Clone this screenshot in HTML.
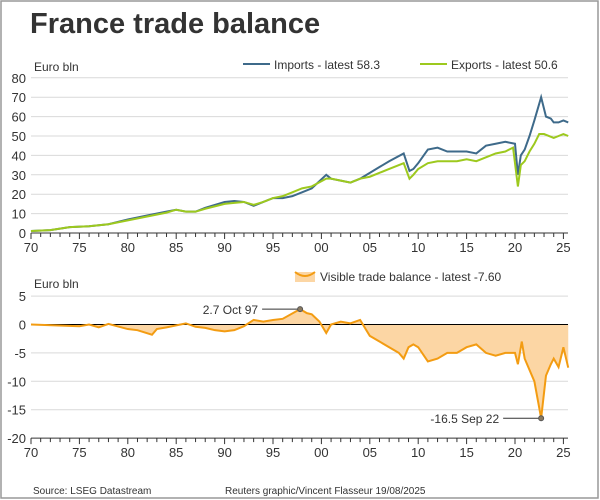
<!DOCTYPE html>
<html><head><meta charset="utf-8"><style>
body{margin:0;background:#fff;font-family:"Liberation Sans",sans-serif}
#wrap{position:relative;width:600px;height:500px;overflow:hidden}
</style></head><body>
<div id="wrap">
<svg id="svg" width="600" height="500" xmlns="http://www.w3.org/2000/svg" font-family="Liberation Sans, sans-serif">
<rect x="1" y="1" width="597" height="497" fill="#fff" stroke="#999" stroke-width="1.5"/>
<text x="30" y="33" font-size="29" font-weight="bold" fill="#333">France trade balance</text>
<text x="34" y="71" font-size="12" fill="#333">Euro bln</text>
<text x="34" y="288" font-size="12" fill="#333">Euro bln</text>
<g><line x1="243" y1="64" x2="270" y2="64" stroke="#3e6a8a" stroke-width="2"/><text x="274" y="69" font-size="12" fill="#333">Imports - latest 58.3</text></g>
<g><line x1="420" y1="64" x2="447" y2="64" stroke="#9dc91e" stroke-width="2"/><text x="451" y="69" font-size="12" fill="#333">Exports - latest 50.6</text></g>
<g><path d="M295 272 L315 272 L315 282 L295 282Z" fill="#fcd6a4"/><path d="M295 272 Q305 280 315 272" stroke="#f39c12" stroke-width="2" fill="none"/><text x="320" y="281" font-size="12" fill="#333">Visible trade balance - latest -7.60</text></g>
<text x="33" y="494" font-size="10" fill="#333">Source: LSEG Datastream</text>
<text x="225" y="494" font-size="10" fill="#333">Reuters graphic/Vincent Flasseur 19/08/2025</text>
<g id="g"></g>
</svg></div>
<script>
const impYears=[1970,1972,1974,1976,1978,1980,1982,1984,1985,1986,1987,1988,1990,1991,1992,1993,1994,1995,1996,1997,1998,1999,2000.5,2001,2002,2003,2004,2005,2006,2007,2008.5,2009.1,2009.5,2010,2011,2012,2013,2014,2015,2016,2017,2018,2019,2020,2020.3,2020.6,2021,2021.5,2022,2022.7,2023.2,2023.7,2024,2024.5,2025,2025.5];
const impVals=[1,1.5,3,3.5,4.5,7,9,11,12,11,11,13,16,16.5,16,14,16,18,18,19,21,23,30,28,27,26,28,31,34,37,41,32,33,36,43,44,42,42,42,41,45,46,47,46,30,40,43,50,58,70,60,59,57,57,58,57];
const expYears=[1970,1972,1974,1976,1978,1980,1982,1984,1985,1986,1987,1988,1990,1991,1992,1993,1994,1995,1996,1997,1998,1999,2000.5,2001,2002,2003,2004,2005,2006,2007,2008.5,2009.1,2009.5,2010,2011,2012,2013,2014,2015,2016,2017,2018,2019,2019.8,2020.3,2020.6,2021,2021.5,2022,2022.5,2023,2024,2024.5,2025,2025.5];
const expVals=[1,1.5,3,3.5,4.5,6.5,8.5,10.5,12,11,11,12.5,15,15.5,16,14.5,16,18,19,21,23,24,28,28,27,26,28,29,31,33,36,28,30,33,36,37,37,37,38,37,39,41,42,44,24,35,37,42,46,51,51,49,50,51,50];
const balYears=[1970,1975,1976,1977,1978,1980,1981,1982.5,1983,1984,1986,1987,1988,1989,1990,1991,1992,1993,1994,1995,1996,1997.8,1998.5,1999,1999.8,2000.5,2001,2002,2003,2004,2005,2006,2007,2008,2008.5,2009,2009.5,2010,2011,2012,2013,2014,2015,2016,2017,2018,2019,2020,2020.3,2020.7,2021,2022,2022.7,2023.2,2023.7,2024,2024.5,2025,2025.5];
const balVals=[0,-0.3,0,-0.5,0.1,-0.8,-1,-1.8,-0.8,-0.5,0.2,-0.4,-0.6,-1,-1.2,-1,-0.3,0.8,0.5,0.8,1,2.7,2,1.8,0.5,-1.5,0,0.5,0.2,0.8,-2,-3,-4,-5,-6,-4,-3.5,-4,-6.5,-6,-5,-5,-4,-3.5,-5,-5.5,-5,-5,-7,-3,-6,-10,-16.5,-9,-7,-6,-7.5,-4,-7.6];
const topTicks=[0,10,20,30,40,50,60,70,80];
const botTicks=[5,0,-5,-10,-15,-20];
const yearLabels=["70","75","80","85","90","95","00","05","10","15","20","25"];

const NS="http://www.w3.org/2000/svg",g=document.getElementById('g');
const X0=31,XR=568;
const x=t=>X0+(t-1970)*9.68;
const yT=v=>233-v*1.94;
const yB=v=>324.5-v*5.68;
function el(tag,a,parent){const e=document.createElementNS(NS,tag);for(const k in a)e.setAttribute(k,a[k]);(parent||g).appendChild(e);return e;}
topTicks.forEach(v=>{
 if(v>0){const l=el('line',{x1:X0,x2:XR,y1:yT(v),y2:yT(v),stroke:'#d9d9d9'});
 
 }
 const t=el('text',{x:26,y:yT(v)+5,'font-size':13,'text-anchor':'end',fill:'#333'});t.textContent=v;
 
 
});
botTicks.forEach(v=>{
 if(v!==-20&&v!==0){const l=el('line',{x1:X0,x2:XR,y1:yB(v),y2:yB(v),stroke:'#d9d9d9'});
 
 }
 const t=el('text',{x:26,y:yB(v)+5,'font-size':13,'text-anchor':'end',fill:'#333'});t.textContent=v;
 
 
});
[[yT(0),'top'],[yB(-20),'bottom']].forEach(([ay,nm])=>{
 const a=el('line',{x1:X0,x2:XR,y1:ay,y2:ay,stroke:'#333'});
 
 
 for(let yr=1970;yr<=2025;yr++){el('line',{x1:x(yr),x2:x(yr),y1:ay,y2:ay+(yr%5===0?6:4),stroke:'#333'});}
 yearLabels.forEach((s,i)=>{const t=el('text',{x:x(1970+i*5),y:ay+19,'font-size':13,'text-anchor':'middle',fill:'#333'});t.textContent=s;
 
 });
});
let pts=balYears.map((t,i)=>x(t)+','+yB(balVals[i]));
const area=el('path',{d:'M'+x(balYears[0])+','+yB(0)+' L'+pts.join(' L')+' L'+x(balYears[balYears.length-1])+','+yB(0)+'Z',fill:'#fcd6a4'});


const zl=el('line',{x1:X0,x2:XR,y1:yB(0),y2:yB(0),stroke:'#000'});


const bl=el('polyline',{points:pts.join(' '),fill:'none',stroke:'#f39c12','stroke-width':2});


const il=el('polyline',{points:impYears.map((t,i)=>x(t)+','+yT(impVals[i])).join(' '),fill:'none',stroke:'#3e6a8a','stroke-width':2});


const xl=el('polyline',{points:expYears.map((t,i)=>x(t)+','+yT(expVals[i])).join(' '),fill:'none',stroke:'#9dc91e','stroke-width':2});


function ann(t,v,label,name){
 const px=x(t),py=yB(v);
 el('line',{x1:px-38,x2:px,y1:py,y2:py,stroke:'#333'});
 const c=el('circle',{cx:px,cy:py,r:2.5,fill:'#8a7a60',stroke:'#555'});
 
 
 const tx=el('text',{x:px-42,y:py+5,'font-size':12,'text-anchor':'end',fill:'#333'});tx.textContent=label;
 
 
}
ann(1997.8,2.7,'2.7 Oct 97','peak-annotation');
ann(2022.7,-16.5,'-16.5 Sep 22','trough-annotation');
</script>
</body></html>
